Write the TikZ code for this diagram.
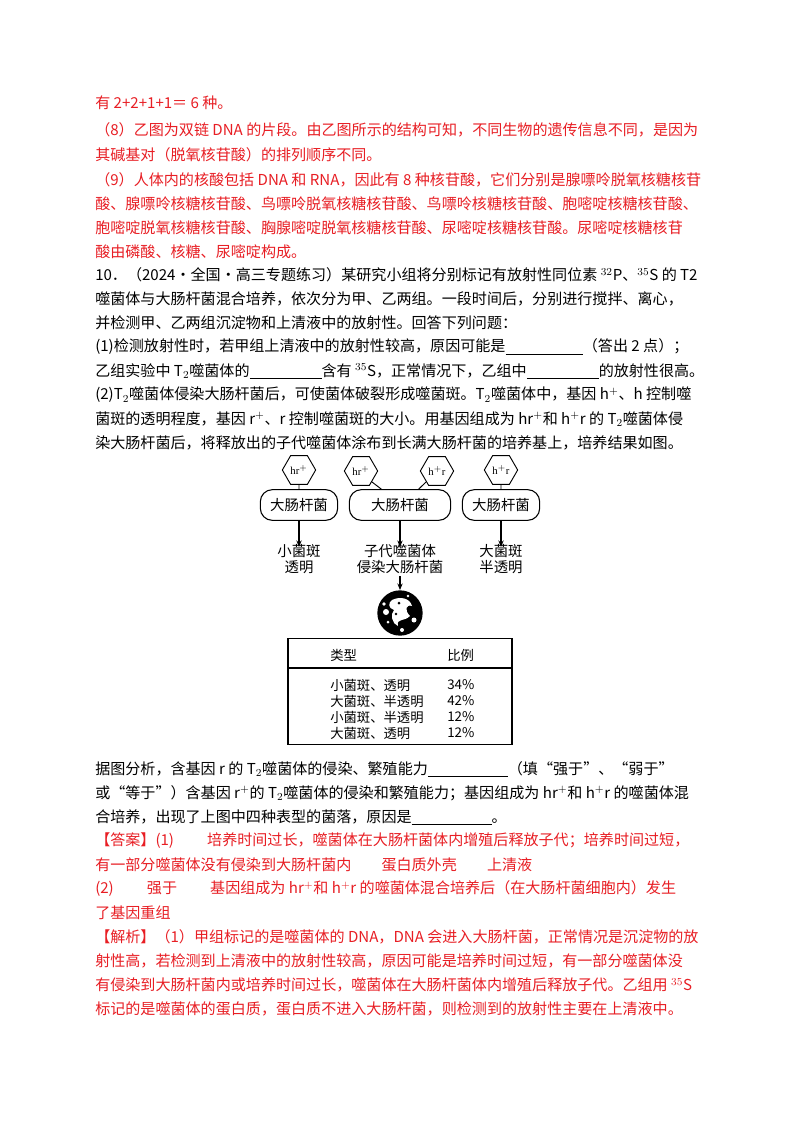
\documentclass[tikz,border=0pt]{standalone}
\usepackage{fontspec}
\setmainfont{Liberation Serif}
\newfontfamily\cjk{Noto Sans CJK SC}
\usetikzlibrary{shapes.geometric,arrows.meta}
\definecolor{ansred}{RGB}{232,30,36}
\newcommand{\bl}[1]{\underline{\hspace{#1}}}
\begin{document}
\begin{tikzpicture}[x=0.75pt,y=-0.75pt,
  ln/.style={anchor=west,inner sep=0pt,font=\cjk\fontsize{11.3}{12}\selectfont},
  rd/.style={ln,text=ansred},
  bx/.style={draw,rounded corners=9pt,minimum height=23pt,inner sep=1pt,font=\cjk\fontsize{10.8}{12}\selectfont,line width=0.8pt},
  hx/.style={draw,regular polygon,regular polygon sides=6,minimum size=25pt,inner sep=0pt,font=\fontsize{8}{9}\selectfont,line width=0.7pt},
  lb/.style={font=\cjk\fontsize{10.8}{11.5}\selectfont,align=center,inner sep=0pt},
  ar/.style={-{Stealth[length=5pt,width=4pt]},line width=0.8pt},
  td/.style={anchor=west,inner sep=0pt,font=\cjk\fontsize{10}{11}\selectfont}]
\useasboundingbox (0,0) rectangle (800,1132);
\fill[white] (0,0) rectangle (800,1132);
\node[rd] (l1) at (95,103) {有 2+2+1+1＝ 6 种。};
\node[rd] (l2) at (95,130) {（8）乙图为双链 DNA 的片段。由乙图所示的结构可知，不同生物的遗传信息不同，是因为};
\node[rd] (l3) at (95,155) {其碱基对（脱氧核苷酸）的排列顺序不同。};
\node[rd] (l4) at (95,180) {（9）人体内的核酸包括 DNA 和 RNA，因此有 8 种核苷酸，它们分别是腺嘌呤脱氧核糖核苷};
\node[rd] (l5) at (95,204) {酸、腺嘌呤核糖核苷酸、鸟嘌呤脱氧核糖核苷酸、鸟嘌呤核糖核苷酸、胞嘧啶核糖核苷酸、};
\node[rd] (l6) at (95,228) {胞嘧啶脱氧核糖核苷酸、胸腺嘧啶脱氧核糖核苷酸、尿嘧啶核糖核苷酸。尿嘧啶核糖核苷};
\node[rd] (l7) at (95,252) {酸由磷酸、核糖、尿嘧啶构成。};
\node[ln] (q1) at (95,275) {10．（2024·全国·高三专题练习）某研究小组将分别标记有放射性同位素 $^{32}$P、$^{35}$S 的 T2};
\node[ln] (q2) at (95,299) {噬菌体与大肠杆菌混合培养，依次分为甲、乙两组。一段时间后，分别进行搅拌、离心，};
\node[ln] (q3) at (95,323) {并检测甲、乙两组沉淀物和上清液中的放射性。回答下列问题：};
\node[ln] (q4) at (95,347) {(1)检测放射性时，若甲组上清液中的放射性较高，原因可能是\bl{58pt}（答出 2 点）；};
\node[ln] (q5) at (95,371) {乙组实验中 T$_2$噬菌体的\bl{54pt}含有 $^{35}$S，正常情况下，乙组中\bl{54pt}的放射性很高。};
\node[ln] (q6) at (95,395) {(2)T$_2$噬菌体侵染大肠杆菌后，可使菌体破裂形成噬菌斑。T$_2$噬菌体中，基因 h$^+$、h 控制噬};
\node[ln] (q7) at (95,419) {菌斑的透明程度，基因 r$^+$、r 控制噬菌斑的大小。用基因组成为 hr$^+$和 h$^+$r 的 T$_2$噬菌体侵};
\node[ln] (q8) at (95,443) {染大肠杆菌后，将释放出的子代噬菌体涂布到长满大肠杆菌的培养基上，培养结果如图。};
% diagram
\node[bx,minimum width=58pt] (b1) at (299,505) {大肠杆菌};
\node[bx,minimum width=76pt] (b2) at (400,505) {大肠杆菌};
\node[bx,minimum width=58pt] (b3) at (501,505) {大肠杆菌};
\node[hx] (h1) at (299,470) {hr$^+$};
\node[hx] (h2) at (361,471) {hr$^+$};
\node[hx] (h3) at (437,471) {h$^+$r};
\node[hx] (h4) at (501,470) {h$^+$r};
\draw[line width=0.7pt] (h1.south) -- (b1.north);
\draw[line width=0.7pt] (h4.south) -- (b3.north);
\draw[line width=0.7pt] (h2.south east) -- ([xshift=-14pt]b2.north);
\draw[line width=0.7pt] (h3.south west) -- ([xshift=14pt]b2.north);
\node[lb] (t1) at (299,559) {小菌斑\\透明};
\node[lb] (t2) at (400,559) {子代噬菌体\\侵染大肠杆菌};
\node[lb] (t3) at (501,559) {大菌斑\\半透明};
\draw[ar] (b1.south) -- ([yshift=-2pt]t1.north);
\draw[ar] (b2.south) -- ([yshift=-2pt]t2.north);
\draw[ar] (b3.south) -- ([yshift=-2pt]t3.north);
\node[circle,fill=black,minimum size=34pt,inner sep=0pt] (pl) at (400,613) {};
\draw[ar] ([yshift=-2pt]t2.south) -- (pl.north);
\fill[white] (392,600) .. controls (400,596) and (410,598) .. (412,606) .. controls (406,604) and (404,610) .. (410,616) .. controls (404,622) and (396,618) .. (398,626) .. controls (392,624) and (390,614) .. (394,610) .. controls (388,608) and (388,603) .. (392,600);
\fill[black] (399,603) circle (1.5);
\fill[black] (396,614) circle (1.3);
\fill[white] (386,612) circle (3);
\fill[white] (414,620) circle (2.5);
\fill[white] (402,630) circle (2);
\fill[white] (384,604) circle (1.8);
\fill[white] (408,596) circle (1.3);
\fill[white] (388,622) circle (1.5);
\node[draw,line width=0.9pt,minimum width=168pt,minimum height=80pt,inner sep=0pt] (tb) at (400,691.5) {};
\draw[line width=0.9pt] (288,668) -- (512,668);
\node[td] (c1) at (330,655) {类型};
\node[td] (c2) at (447,655) {比例};
\node[td] (r1) at (330,685) {小菌斑、透明};
\node[td] (r2) at (330,701) {大菌斑、半透明};
\node[td] (r3) at (330,717) {小菌斑、半透明};
\node[td] (r4) at (330,733) {大菌斑、透明};
\node[td] (p1) at (447,685) {34\%};
\node[td] (p2) at (447,701) {42\%};
\node[td] (p3) at (447,717) {12\%};
\node[td] (p4) at (447,733) {12\%};
% after
\node[ln] (s1) at (95,769) {据图分析，含基因 r 的 T$_2$噬菌体的侵染、繁殖能力\bl{60pt}（填“强于”、“弱于”};
\node[ln] (s2) at (95,793) {或“等于”）含基因 r$^+$的 T$_2$噬菌体的侵染和繁殖能力；基因组成为 hr$^+$和 h$^+$r 的噬菌体混};
\node[ln] (s3) at (95,817) {合培养，出现了上图中四种表型的菌落，原因是\bl{60pt}。};
\node[rd] (a1) at (95,841) {【答案】(1)\hspace{2.2em}培养时间过长，噬菌体在大肠杆菌体内增殖后释放子代；培养时间过短，};
\node[rd] (a2) at (95,865) {有一部分噬菌体没有侵染到大肠杆菌内\hspace{2em}蛋白质外壳\hspace{2em}上清液};
\node[rd] (a3) at (95,889) {(2)\hspace{2.2em}强于\hspace{2.2em}基因组成为 hr$^+$和 h$^+$r 的噬菌体混合培养后（在大肠杆菌细胞内）发生};
\node[rd] (a4) at (95,913) {了基因重组};
\node[rd] (j1) at (95,937) {【解析】（1）甲组标记的是噬菌体的 DNA，DNA 会进入大肠杆菌，正常情况是沉淀物的放};
\node[rd] (j2) at (95,961) {射性高，若检测到上清液中的放射性较高，原因可能是培养时间过短，有一部分噬菌体没};
\node[rd] (j3) at (95,985) {有侵染到大肠杆菌内或培养时间过长，噬菌体在大肠杆菌体内增殖后释放子代。乙组用 $^{35}$S};
\node[rd] (j4) at (95,1009) {标记的是噬菌体的蛋白质，蛋白质不进入大肠杆菌，则检测到的放射性主要在上清液中。};
\end{tikzpicture}
\end{document}
